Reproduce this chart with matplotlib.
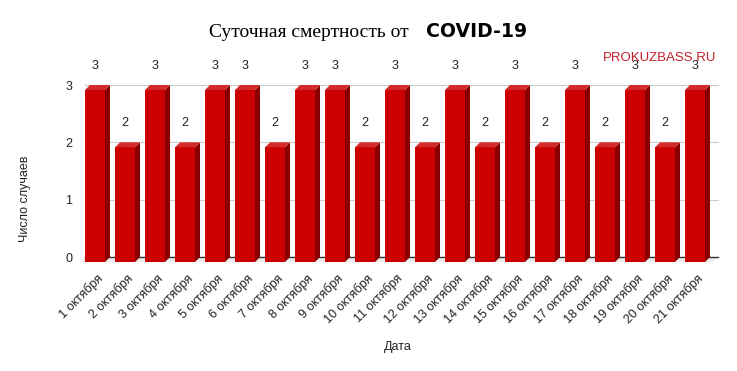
import matplotlib
matplotlib.use('Agg')
import matplotlib.pyplot as plt

# data
days = list(range(1, 22))
deaths = [3, 2, 3, 2, 3, 3, 2, 3, 3, 2, 3, 2, 3, 2, 3, 2, 3, 2, 3, 2, 3]
day_labels = [str(d) + ' октября' for d in days]
yticks = [0, 1, 2, 3]

title_main = 'Суточная смертность от'
title_bold = 'COVID-19'
ylabel = 'Число случаев'
xlabel = 'Дата'
watermark = 'PROKUZBASS.RU'

W, H = 737, 371
dpi = 100

col = {
    'front': '#cc0000',
    'side': '#8a0000',
    'top': '#d42a2a',
    'grid': '#cccccc',
    'zero': '#333333',
    'floor': '#ececec',
    'text': '#222222',
    'mark': '#c41e2a',
}

# pixel geometry of plot area
px_left, px_right = 85, 718
px_top, px_bottom = 85, 257
bar_step = 30.0
bar_w = 20 / bar_step
px_per_unit = (px_bottom - px_top) / 3.0
dx = 5 / bar_step
dy = 5 / px_per_unit

plt.rcParams['font.family'] = ['Liberation Sans', 'DejaVu Sans']

fig = plt.figure(figsize=(W / dpi, H / dpi), dpi=dpi)
ax = fig.add_axes([px_left / W, 1 - px_bottom / H,
                   (px_right - px_left) / W, (px_bottom - px_top) / H])

x0 = -bar_w / 2
x1 = (px_right - px_left) / bar_step + x0
ax.set_xlim(x0, x1)
ax.set_ylim(0, 3)
for s in ax.spines.values():
    s.set_visible(False)

# floor and grid
ax.fill([x0, x1, x1 - dx, x0 - dx], [0, 0, -dy, -dy], color=col['floor'],
        clip_on=False, zorder=0, lw=0)
for v in yticks[1:]:
    ax.plot([x0, x1], [v, v], color=col['grid'], lw=0.8, zorder=1, clip_on=False)
ax.plot([x0, x1], [0, 0], color=col['zero'], lw=1, zorder=1, clip_on=False)

# 3d bars
for i, v in enumerate(deaths):
    l, r = i - bar_w / 2, i + bar_w / 2
    b, t = -dy, v - dy
    ax.fill([l, r, r, l], [b, b, t, t], color=col['front'], lw=0, zorder=3, clip_on=False)
    ax.fill([r, r + dx, r + dx, r], [b, b + dy, t + dy, t], color=col['side'], lw=0,
            zorder=3, clip_on=False)
    ax.fill([l, r, r + dx, l + dx], [t, t, t + dy, t + dy], color=col['top'], lw=0,
            zorder=3, clip_on=False)
    ax.text(i, v + 19 / px_per_unit, str(v), ha='center', va='center', fontsize=9,
            color=col['text'], zorder=4)

ax.set_yticks(yticks)
ax.set_yticklabels([str(v) for v in yticks])
ax.tick_params(axis='y', length=0, pad=9, labelsize=9, labelcolor=col['text'])
ax.set_xticks([i + 0.2 for i in range(len(days))])
ax.set_xticklabels(day_labels, rotation=45, ha='right', va='center',
                   rotation_mode='anchor')
ax.tick_params(axis='x', length=0, pad=14, labelsize=9, labelcolor=col['text'])

# labels
fig.text(25 / W, 1 - 199 / H, ylabel, rotation=90, ha='center', va='center',
         fontsize=9, color=col['text'])
fig.text(398 / W, 1 - 347 / H, xlabel, ha='center', va='center', fontsize=9,
         color=col['text'])

# title in two fonts
fig.text(209 / W, 1 - 37 / H, title_main, ha='left', va='baseline',
         family='Liberation Serif', fontsize=14, color='black')
fig.text(426 / W, 1 - 37 / H, title_bold, ha='left', va='baseline',
         family='DejaVu Sans', fontweight='bold', fontsize=13.6, color='black')

fig.text(603 / W, 1 - 58 / H, watermark, ha='left', va='center', fontsize=9.5,
         color=col['mark'])

fig.savefig('out.png', dpi=dpi)
